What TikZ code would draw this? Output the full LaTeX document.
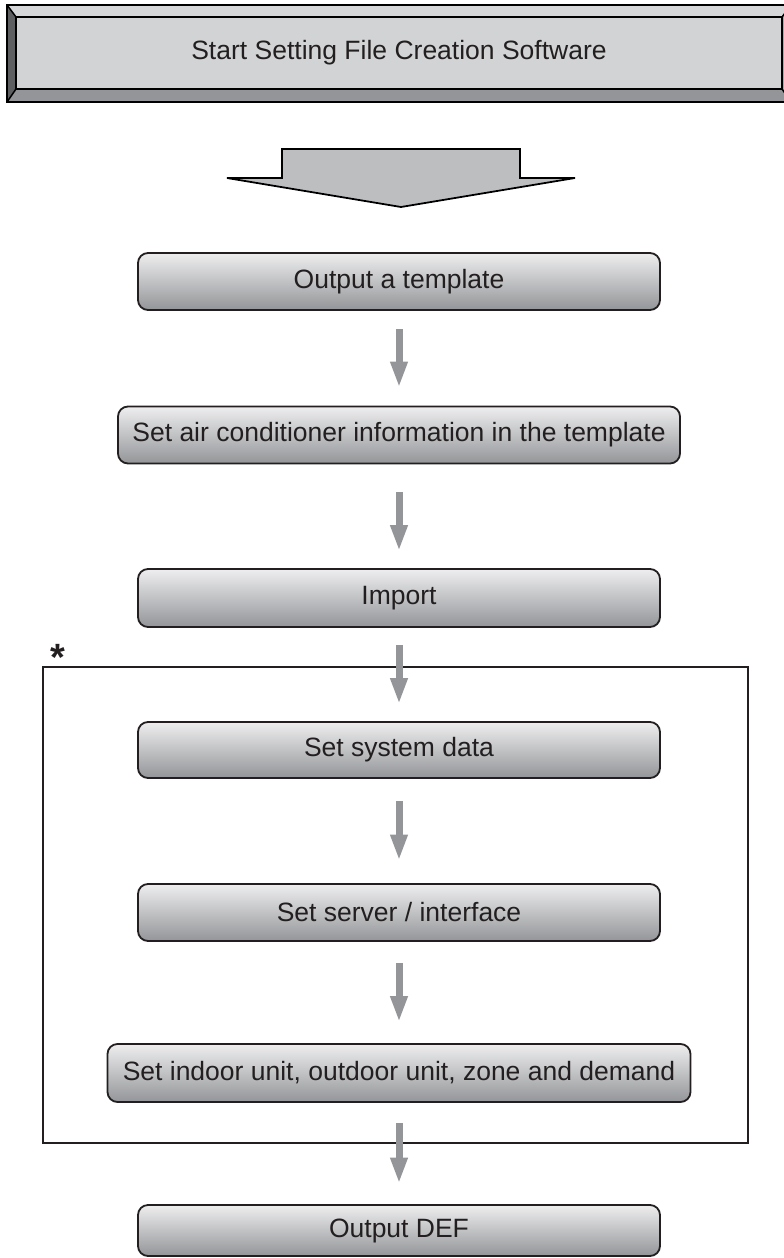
\documentclass[tikz,border=0pt]{standalone}
\usepackage{fontspec}
\setmainfont{Liberation Sans}
\usetikzlibrary{arrows.meta}
\definecolor{boxborder}{HTML}{231F20}
\definecolor{textcol}{HTML}{231F20}
\definecolor{boxtop}{HTML}{EEEEEF}
\definecolor{boxbot}{HTML}{939598}
\definecolor{arrowgray}{HTML}{939598}
\definecolor{bevelface}{HTML}{D1D3D4}
\definecolor{bevelleft}{HTML}{5E5F61}
\definecolor{beveltop}{HTML}{D6D7D8}
\definecolor{bevelbottom}{HTML}{939598}
\definecolor{bevelright}{HTML}{A7A9AC}
\definecolor{bigarrow}{HTML}{BCBEC0}
\begin{document}
\begin{tikzpicture}[x=1pt,y=-1pt,
  flowbox/.style={draw=boxborder, line width=1.8pt, rounded corners=10pt,
    top color=boxtop, bottom color=boxbot, minimum height=57pt,
    minimum width=522pt, inner sep=0pt,
    font=\fontsize{26.5}{30}\selectfont, text=textcol},
  smallarrow/.style={draw=arrowgray, line width=7pt,
    -{Triangle[width=16pt,length=26pt]}},
  bevelline/.style={draw=black, line width=1.5pt, line join=miter},
  frame/.style={draw=boxborder, line width=2.6pt},
]
\useasboundingbox (0,0) rectangle (784,1258);

% bevelled title box
\fill[bevelleft] (7,5) -- (16,17) -- (16,89) -- (7,102) -- cycle;
\fill[beveltop] (7,5) -- (791,5) -- (782,17) -- (16,17) -- cycle;
\fill[bevelbottom] (7,102) -- (16,89) -- (782,89) -- (791,102) -- cycle;
\fill[bevelright] (791,5) -- (782,17) -- (782,89) -- (791,102) -- cycle;
\draw[bevelline] (7,5) rectangle (791,102);
\draw[bevelline] (7,5) -- (16,17) (7,102) -- (16,89) (791,5) -- (782,17) (791,102) -- (782,89);
\node[draw=black, line width=1.5pt, fill=bevelface, minimum width=766pt,
  minimum height=72pt, inner sep=0pt, font=\fontsize{26.5}{30}\selectfont,
  text=textcol] (top) at (399,53) {Start Setting File Creation Software};

% big block arrow
\draw[fill=bigarrow, draw=black, line width=1.8pt, line join=miter]
  (282,149) -- (520,149) -- (520,178) -- (575,178) -- (401,207)
  -- (227,178) -- (282,178) -- cycle;

% frame round the detailed settings
\draw[frame] (43,667) rectangle (748,1143);
\node[font=\bfseries\fontsize{38}{40}\selectfont, text=textcol, inner sep=0pt,
  anchor=base] (star) at (57.5,670) {*};

% steps
\node[flowbox] (b1) at (399,281.5) {Output a template};
\node[flowbox, minimum width=562pt] (b2) at (399,435) {Set air conditioner information in the template};
\node[flowbox, minimum height=58pt] (b3) at (399,598) {Import};
\node[flowbox, minimum height=56pt] (b4) at (399,750) {Set system data};
\node[flowbox] (b5) at (399,912.5) {Set server / interface};
\node[flowbox, minimum width=583pt, minimum height=58pt] (b6) at (399,1073) {Set indoor unit, outdoor unit, zone and demand};
\node[flowbox, minimum height=51pt] (b7) at (399,1230.5) {Output DEF};

% connectors
\draw[smallarrow, shorten <=18pt, shorten >=18pt] (b1) -- (b2);
\draw[smallarrow, shorten <=27.5pt, shorten >=17pt] (b2) -- (b3);
\draw[smallarrow, shorten <=17pt, shorten >=17pt] (b3) -- (b4);
\draw[smallarrow, shorten <=22.5pt, shorten >=22.5pt] (b4) -- (b5);
\draw[smallarrow, shorten <=21pt, shorten >=21pt] (b5) -- (b6);
\draw[smallarrow, shorten <=20.5pt, shorten >=20.5pt] (b6) -- (b7);
\end{tikzpicture}
\end{document}
